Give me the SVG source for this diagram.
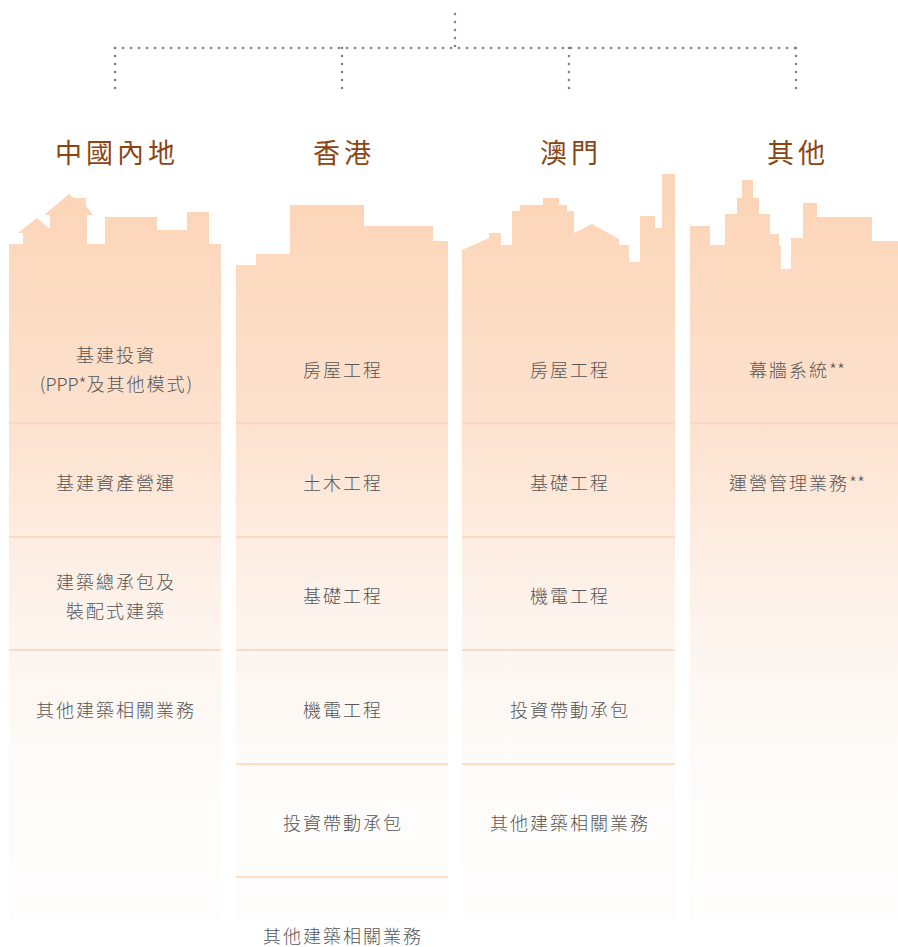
<svg xmlns="http://www.w3.org/2000/svg" width="898" height="947" viewBox="0 0 898 947">
  <style>
    .col { fill: url(#fade); }
    .sep { stroke: #fad3b6; stroke-width: 1.5; fill: none; }
    .head { font-family: "Noto Sans CJK TC", "Noto Sans CJK SC", sans-serif; font-size: 27px; font-weight: 400; fill: #8b4513; text-anchor: middle; letter-spacing: 4px; }
    .item { font-family: "Noto Sans CJK TC", "Noto Sans CJK SC", sans-serif; font-size: 18px; font-weight: 300; fill: #555; text-anchor: middle; letter-spacing: 2px; }
    .tight { letter-spacing: 0; }
    .dots { stroke: #808080; stroke-width: 2.6; stroke-linecap: round; stroke-dasharray: 0 8; fill: none; }
  </style>
  <defs>
    <linearGradient id="fade" gradientUnits="userSpaceOnUse" x1="0" y1="180" x2="0" y2="922">
      <stop offset="0" stop-color="#fcd4b6"/>
      <stop offset="0.33" stop-color="#fde2cf"/>
      <stop offset="0.58" stop-color="#fdf3ec"/>
      <stop offset="0.82" stop-color="#fefcfa"/>
      <stop offset="1" stop-color="#fefdfd"/>
    </linearGradient>
  </defs>

  <!-- dotted tree connectors -->
  <g id="connectors">
    <path class="dots" d="M455 14 V48.5"/>
    <path class="dots" d="M115 48 H796.5"/>
    <path class="dots" d="M115 48 V89"/>
    <path class="dots" d="M342 48 V89"/>
    <path class="dots" d="M569 48 V89"/>
    <path class="dots" d="M796 48 V89"/>
  </g>

  <!-- Mainland China column -->
  <g id="mainland">
    <path class="col" d="M9 244 H23 V233 H18 L37 218 L50 229 V215 H44 L69 194 L74 198 V198 H86 V206 L93 215 H87 V244 H105 V217 H157 V230 H187 V212 H209 V244 H221 V921 H9 Z"/>
    <text class="head" x="117" y="163">中國內地</text>
    <path class="sep" d="M9 423 H221 M9 537 H221 M9 650 H221"/>
    <text class="item" x="116" y="362">基建投資</text>
    <text class="item" x="116" y="391"><tspan class="tight">(PPP*</tspan>及其他模式<tspan class="tight">)</tspan></text>
    <text class="item" x="116" y="490">基建資產營運</text>
    <text class="item" x="116" y="589">建築總承包及</text>
    <text class="item" x="116" y="618">裝配式建築</text>
    <text class="item" x="116" y="717">其他建築相關業務</text>
  </g>

  <!-- Hong Kong column -->
  <g id="hongkong">
    <path class="col" d="M236 265 H256 V254 H290 V205 H364 V226 H433 V241 H448 V921 H236 Z"/>
    <text class="head" x="344" y="163">香港</text>
    <path class="sep" d="M236 423 H448 M236 537 H448 M236 650 H448 M236 764 H448 M236 877 H448"/>
    <text class="item" x="343" y="377">房屋工程</text>
    <text class="item" x="343" y="490">土木工程</text>
    <text class="item" x="343" y="603">基礎工程</text>
    <text class="item" x="343" y="717">機電工程</text>
    <text class="item" x="343" y="830">投資帶動承包</text>
    <text class="item" x="343" y="943">其他建築相關業務</text>
  </g>

  <!-- Macau column -->
  <g id="macau">
    <path class="col" d="M462 250 L489 238 V233 H501 V245 H512 V211 H520 V205 H543 V198 H559 V205 H567 V211 H574 V233 L592 224 L619 239 V245 H629 V262 H640 V216 H655 V228 H662 V174 H675 V921 H462 Z"/>
    <text class="head" x="571" y="163">澳門</text>
    <path class="sep" d="M462 423 H675 M462 537 H675 M462 650 H675 M462 764 H675"/>
    <text class="item" x="570" y="377">房屋工程</text>
    <text class="item" x="570" y="490">基礎工程</text>
    <text class="item" x="570" y="603">機電工程</text>
    <text class="item" x="570" y="717">投資帶動承包</text>
    <text class="item" x="570" y="830">其他建築相關業務</text>
  </g>

  <!-- Other regions column -->
  <g id="others">
    <path class="col" d="M690 226 H710 V245 H725 V214 H737 V198 H742 V180 H753 V198 H759 V214 H770 V234 H779 V246 H781 V269 H791 V238 H803 V203 H817 V217 H872 V241 H898 V921 H690 Z"/>
    <text class="head" x="798" y="163">其他</text>
    <path class="sep" d="M690 423 H898"/>
    <text class="item" x="797" y="377">幕牆系統<tspan class="tight">**</tspan></text>
    <text class="item" x="797" y="490">運營管理業務<tspan class="tight">**</tspan></text>
  </g>
</svg>
